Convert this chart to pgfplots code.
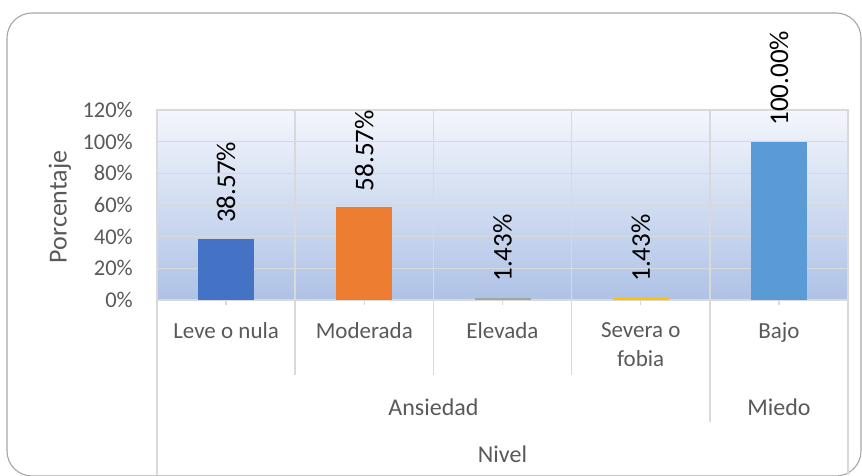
\documentclass[border=0pt]{standalone}
\usepackage{fontspec}
\setmainfont{Carlito}
\usepackage{pgfplots}
\pgfplotsset{compat=1.18}
\definecolor{barA}{HTML}{4472C4}
\definecolor{barB}{HTML}{ED7D31}
\definecolor{barC}{HTML}{A5A5A5}
\definecolor{barD}{HTML}{FFC000}
\definecolor{barE}{HTML}{5B9BD5}
\definecolor{tickgray}{HTML}{595959}
\definecolor{gridgray}{HTML}{D9D9D9}
\definecolor{framegray}{HTML}{A6A6A6}
\definecolor{bgtop}{HTML}{F3F6FC}
\definecolor{bgmid}{HTML}{CBD7EF}
\definecolor{bgbot}{HTML}{AEC2E6}

\pgfplotsset{
  onebar/.style={ybar, bar width=56pt, bar shift=0pt, draw=none,
    nodes near coords={\pgfmathprintnumber[fixed,fixed zerofill,precision=2,assume math mode=true]{\pgfplotspointmeta}\%},
    every node near coord/.append style={font=\fontsize{27}{32}\selectfont, color=black,
      inner sep=0pt, yshift=16pt, rotate=90, anchor=west}},
}

\begin{document}
\begin{tikzpicture}[x=1pt, y=1pt]
\path[use as bounding box] (0,0) rectangle (862,475);
% chart frame
\draw[framegray, line width=1.1pt, rounded corners=25pt] (7,-1) rectangle (861,462);

\begin{axis}[
  at={(157pt,175pt)}, anchor=south west,
  width=691pt, height=190pt, scale only axis,
  xmin=-0.5, xmax=4.5, ymin=0, ymax=120,
  axis background/.style={top color=bgtop, middle color=bgmid, bottom color=bgbot},
  ytick={0,20,40,60,80,100,120},
  yticklabel={\pgfmathprintnumber[assume math mode=true]{\tick}\%},
  yticklabel style={font=\fontsize{22.5}{27}\selectfont, color=tickgray, inner sep=0pt, anchor=east, xshift=-19pt},
  ytick style={draw=none},
  ymajorgrids, grid style={gridgray, line width=1.5pt},
  xtick={0,1,2,3,4},
  xticklabels={Leve o nula, Moderada, Elevada, {Severa o\\fobia}, Bajo},
  xticklabel style={font=\fontsize{23}{29}\selectfont, color=tickgray, align=center,
    inner sep=0pt, anchor=north, yshift=-17pt},
  xtick pos=lower, tick align=outside, major tick length=5pt,
  xtick style={gridgray, line width=1.5pt},
  minor xtick={-0.5,0.5,1.5,2.5,3.5,4.5},
  minor tick length=0pt, xminorgrids,
  minor grid style={gridgray, line width=1.5pt},
  axis line style={gridgray, line width=1.5pt},
  clip=false,
]
\addplot[onebar, fill=barA] coordinates {(0,38.57)};
\addplot[onebar, fill=barB] coordinates {(1,58.57)};
\addplot[onebar, fill=barC] coordinates {(2,1.43)};
\addplot[onebar, fill=barD] coordinates {(3,1.43)};
\addplot[onebar, fill=barE] coordinates {(4,100)};
\end{axis}

% multi-level category axis lines
\begin{scope}[gridgray, line width=1.5pt]
\draw (157,175) -- (157,0);
\draw (848,175) -- (848,0);
\draw (295.2,175) -- (295.2,100);
\draw (433.4,175) -- (433.4,100);
\draw (571.6,175) -- (571.6,100);
\draw (709.8,175) -- (709.8,53);
\end{scope}

\node[font=\fontsize{24}{29}\selectfont, color=tickgray, anchor=base] at (433.5,60) {Ansiedad};
\node[font=\fontsize{24}{29}\selectfont, color=tickgray, anchor=base] at (779,60) {Miedo};
\node[font=\fontsize{24}{29}\selectfont, color=tickgray, anchor=base] at (502.5,13) {Nivel};
\node[font=\fontsize{26}{31}\selectfont, color=tickgray, rotate=90] at (60,268) {Porcentaje};
\end{tikzpicture}
\end{document}
